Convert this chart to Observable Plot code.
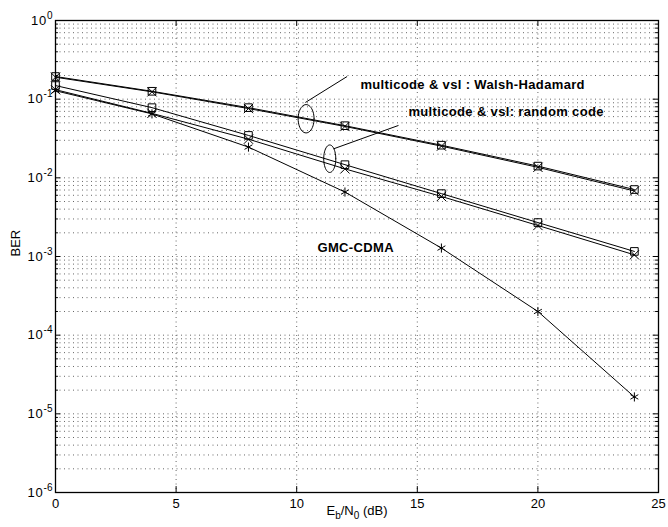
<!DOCTYPE html>
<html>
<head>
<meta charset="utf-8">
<script src="https://cdn.jsdelivr.net/npm/d3@7"></script>
<script src="https://cdn.jsdelivr.net/npm/@observablehq/plot@0.6"></script>
<style>
  html, body { margin: 0; padding: 0; background: #fff; }
  #chart { width: 668px; height: 527px; }
</style>
</head>
<body>
<div id="chart"></div>
<script>
// ---- data ----
const snr = [0, 4, 8, 12, 16, 20, 24];
const whSquare = [0.194, 0.126, 0.078, 0.046, 0.026, 0.0141, 0.0071];
const whTimes  = [0.190, 0.124, 0.076, 0.045, 0.0253, 0.0136, 0.0068];
const rcSquare = [0.149, 0.078, 0.0346, 0.0147, 0.0063, 0.0027, 0.00116];
const rcTimes  = [0.132, 0.066, 0.031, 0.013, 0.0058, 0.00248, 0.00105];
const gmc      = [0.128, 0.065, 0.0246, 0.0066, 0.00128, 0.0002, 0.0000164];

const xTicks = [0, 5, 10, 15, 20, 25];
const yExponents = [0, -1, -2, -3, -4, -5, -6];

// annotation texts and anchor positions (data coordinates)
const annoText = ["multicode & vsl : Walsh-Hadamard", "multicode & vsl: random code", "GMC-CDMA"];
const annoX = [12.64, 14.63, 10.86];
const annoY = [0.1538, 0.0698, 0.001305];
// ellipse callouts: center x, center log10(y), radius x (units), radius (decades)
const ellCx = [10.39, 11.37];
const ellCy = [-1.249, -1.757];
const ellRx = [0.33, 0.25];
const ellRy = [0.18, 0.175];
// leader lines
const leadX1 = [10.36, 11.54], leadY1 = [-1.042, -1.630];
const leadX2 = [12.09, 14.22], leadY2 = [-0.712, -1.334];

// ---- derived tables ----
const series = [
  {name: "WH square", values: whSquare, symbol: "square"},
  {name: "WH times", values: whTimes, symbol: "times"},
  {name: "RC square", values: rcSquare, symbol: "square"},
  {name: "RC times", values: rcTimes, symbol: "times"},
  {name: "GMC", values: gmc, symbol: "asterisk"}
];
const rows = series.flatMap(s => s.values.map((v, i) => ({series: s.name, symbol: s.symbol, x: snr[i], y: v})));

const minor = [];
for (let e = -6; e < 0; e++) for (let d = 1; d <= 9; d++) minor.push(d * 10 ** e);
minor.push(1);
const majorY = yExponents.map(e => 10 ** e);
const gridX = [5, 10, 15, 20];

const ellRows = [];
ellCx.forEach((cx, k) => {
  for (let i = 0; i <= 48; i++) {
    const t = (i / 48) * 2 * Math.PI;
    ellRows.push({k, x: cx + ellRx[k] * Math.cos(t), y: 10 ** (ellCy[k] + ellRy[k] * Math.sin(t))});
  }
});
const leads = leadX1.map((x, i) => ({x1: x, y1: 10 ** leadY1[i], x2: leadX2[i], y2: 10 ** leadY2[i]}));
const annos = annoText.map((t, i) => ({t, x: annoX[i], y: annoY[i]}));

const tickLenX = 0.22, tickLenY = 0.075;   // major tick length (units / decades)
const mTickLenX = 0.12;

const dotted = {stroke: "#000", strokeOpacity: 0.6, strokeDasharray: "1,3.5", strokeWidth: 1};

const chart = Plot.plot({
  width: 668,
  height: 527,
  marginLeft: 55,
  marginRight: 10,
  marginTop: 20,
  marginBottom: 35,
  style: {fontFamily: "'Liberation Sans', Arial, Helvetica, sans-serif", fontSize: "13px", background: "#fff", color: "#000"},
  x: {domain: [0, 25]},
  y: {type: "log", domain: [1e-6, 1]},
  marks: [
    // grid
    Plot.ruleY(minor.filter(v => v > 1e-6 && v < 1), dotted),
    Plot.ruleX(gridX, dotted),
    // inward ticks
    Plot.ruleY(minor, {x1: 0, x2: d => majorY.includes(d) ? tickLenX : mTickLenX, stroke: "#000"}),
    Plot.ruleY(minor, {x1: d => 25 - (majorY.includes(d) ? tickLenX : mTickLenX), x2: 25, stroke: "#000"}),
    Plot.ruleX(xTicks, {y1: 1e-6, y2: 10 ** (-6 + tickLenY), stroke: "#000"}),
    Plot.ruleX(xTicks, {y1: 10 ** (-tickLenY), y2: 1, stroke: "#000"}),
    Plot.frame({stroke: "#000", strokeWidth: 1.3}),
    // axes
    Plot.axisX({ticks: xTicks, tickSize: 0, tickPadding: 6, label: null, tickFormat: d => String(d), fontSize: 13}),
    Plot.axisY({ticks: majorY, tickSize: 0, tickPadding: 3, label: null, fontSize: 13,
      tickFormat: d => "10^" + Math.round(Math.log10(d))}),
    Plot.text(["BER"], {frameAnchor: "left", dx: -40, rotate: -90, fontSize: 13}),
    Plot.text(["Eb/N0 (dB)"], {frameAnchor: "bottom", dy: 22, fontSize: 13}),
    // data lines
    Plot.line(rows, {x: "x", y: "y", z: "series", stroke: "#000", strokeWidth: 1}),
    Plot.dot(rows, {x: "x", y: "y", symbol: "symbol", r: 4.3, stroke: "#000", fill: "none", strokeWidth: 1}),
    // annotations
    Plot.line(ellRows, {x: "x", y: "y", z: "k", stroke: "#000", strokeWidth: 1}),
    Plot.link(leads, {x1: "x1", y1: "y1", x2: "x2", y2: "y2", stroke: "#000", strokeWidth: 1}),
    Plot.text(annos, {x: "x", y: "y", text: "t", textAnchor: "start", fontWeight: "bold", fontSize: 13})
  ]
});

// superscripts / subscripts and letter spacing
const svgNS = "http://www.w3.org/2000/svg";
chart.querySelectorAll("text").forEach(t => {
  const s = t.textContent;
  let m = s.match(/^10\^(-?\d+)$/);
  if (m) {
    t.textContent = "";
    t.setAttribute("letter-spacing", "0.8");
    t.appendChild(document.createTextNode("10"));
    const sup = document.createElementNS(svgNS, "tspan");
    sup.setAttribute("dy", "-0.6em");
    sup.setAttribute("font-size", "10");
    sup.setAttribute("letter-spacing", "0");
    sup.textContent = m[1];
    t.appendChild(sup);
  } else if (s === "Eb/N0 (dB)") {
    t.textContent = "";
    const parts = [["E", 0, null], ["b", 4, "10"], ["/N", -4, null], ["0", 4, "10"], [" (dB)", -4, null]];
    parts.forEach(([txt, dy, fs]) => {
      const sp = document.createElementNS(svgNS, "tspan");
      sp.setAttribute("dy", dy);
      if (fs) sp.setAttribute("font-size", fs);
      sp.textContent = txt;
      t.appendChild(sp);
    });
  } else if (annoText.includes(s)) {
    t.setAttribute("letter-spacing", "0.35");
  }
});

document.getElementById("chart").appendChild(chart);
</script>
</body>
</html>
